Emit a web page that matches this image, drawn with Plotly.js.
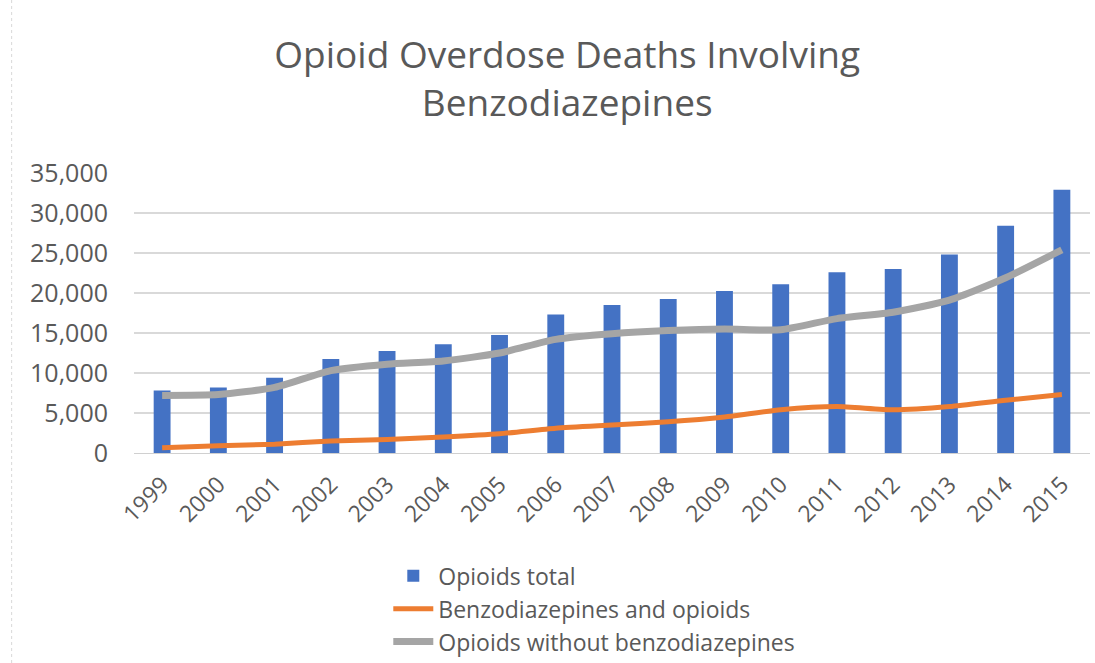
<!DOCTYPE html>
<html>
<head>
<meta charset="utf-8">
<script src="https://cdn.plot.ly/plotly-3.0.1.min.js"></script>
<style>html,body{margin:0;padding:0;background:#fff;}#chart{width:1095px;height:663px;}</style>
</head>
<body>
<div id="chart"></div>
<script>
var years = ["1999","2000","2001","2002","2003","2004","2005","2006","2007","2008","2009","2010","2011","2012","2013","2014","2015"];
var opioidsTotal = [7800,8200,9400,11750,12750,13600,14750,17300,18500,19250,20250,21100,22600,23000,24800,28400,32900];
var benzoAndOpioids = [650,900,1100,1500,1700,2000,2400,3100,3500,3900,4500,5400,5800,5400,5800,6600,7300];
var opioidsWithoutBenzo = [7200,7300,8200,10300,11100,11500,12500,14200,14900,15300,15500,15400,16800,17600,19100,21900,25400];
var yTicks = [0,5000,10000,15000,20000,25000,30000,35000];
var yTickText = ["0","5,000","10,000","15,000","20,000","25,000","30,000","35,000"];

var fontFam = "Open Sans, Lato, sans-serif";
var txtCol = "#595959";

var data = [
  {type:"bar", name:"Opioids total", x:years, y:opioidsTotal,
   marker:{color:"#4472c4"}, width:0.3},
  {type:"scatter", mode:"lines", name:"Benzodiazepines and opioids", x:years, y:benzoAndOpioids,
   line:{color:"#ed7d31", width:5, shape:"spline", smoothing:0.6}},
  {type:"scatter", mode:"lines", name:"Opioids without benzodiazepines", x:years, y:opioidsWithoutBenzo,
   line:{color:"#a5a5a5", width:7, shape:"spline", smoothing:0.6}}
];

var layout = {
  width:1095, height:663,
  margin:{l:134, r:5, t:173, b:210, autoexpand:false},
  paper_bgcolor:"#fff", plot_bgcolor:"#fff",
  font:{family:fontFam, color:txtCol},
  title:{text:"Opioid Overdose Deaths Involving<br>Benzodiazepines",
         font:{family:fontFam, size:37, color:txtCol},
         x:0.518, xanchor:"center", yref:"container", y:0.897, yanchor:"top"},
  showlegend:true,
  legend:{orientation:"v", x:0.266, xanchor:"left", y:-0.362, yanchor:"top",
          font:{family:fontFam, size:23, color:txtCol}, tracegroupgap:0, itemwidth:40},
  xaxis:{type:"category", tickangle:-45, tickfont:{family:fontFam, size:23, color:txtCol},
         automargin:false,
         showgrid:false, showline:true, linecolor:"#d0d0d0", linewidth:1,
         ticks:"outside", ticklen:8, tickcolor:"rgba(0,0,0,0)", fixedrange:true},
  yaxis:{range:[0,35000], tickvals:yTicks, ticktext:yTickText,
         tickfont:{family:fontFam, size:25, color:txtCol}, automargin:false,
         showgrid:true, gridcolor:"#d9d9d9", gridwidth:1.5, zeroline:false,
         showline:false, ticks:"outside", ticklen:20, tickcolor:"rgba(0,0,0,0)", fixedrange:true},
  shapes:[{type:"line", xref:"paper", yref:"paper", x0:-0.128, x1:-0.128, y0:-0.75, y1:1.7,
           line:{color:"#d9d9d9", width:1, dash:"dot"}}],
  hovermode:false
};

Plotly.newPlot("chart", data, layout, {displayModeBar:false, staticPlot:true});
</script>
</body>
</html>
